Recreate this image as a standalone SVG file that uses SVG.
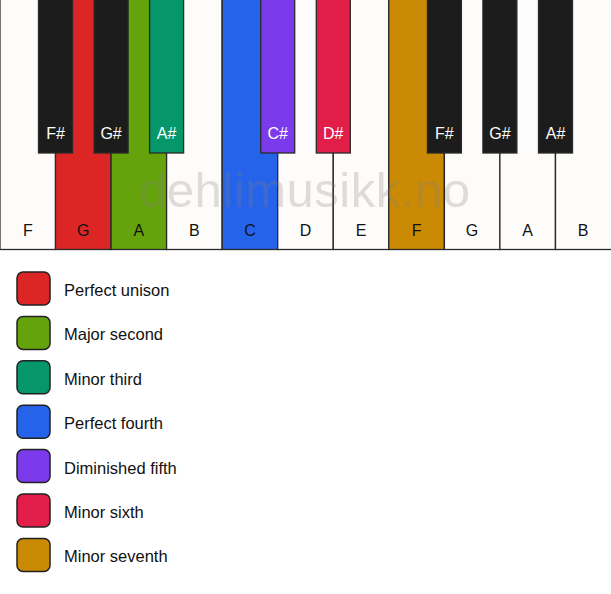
<svg xmlns="http://www.w3.org/2000/svg" width="611" height="594" viewBox="0 0 611 594">
<style>
.w{fill:#fdfcfa;stroke:#2a2a2a;stroke-width:1.3}
.b{fill:#1c1c1c;stroke:#2a2a2a;stroke-width:1.3}
.lw{font-family:"Liberation Sans",Arial,sans-serif;font-size:16px;fill:#111;text-anchor:middle}
.lb{font-family:"Liberation Sans",Arial,sans-serif;font-size:16px;fill:#fff;text-anchor:middle}
.sw{stroke:#222;stroke-width:1.5}
.lt{font-family:"Liberation Sans",Arial,sans-serif;font-size:16.5px;fill:#111}
</style>
<rect width="611" height="594" fill="#ffffff"/>
<g id="white-keys">
<g id="key-F1"><rect class="w" x="0" y="-2" width="55.5" height="251.5"/><text class="lw" x="27.8" y="236">F</text></g>
<g id="key-G1"><rect class="w" x="55.5" y="-2" width="55.5" height="251.5" style="fill:#dc2626"/><text class="lw" x="83.3" y="236">G</text></g>
<g id="key-A1"><rect class="w" x="111.1" y="-2" width="55.5" height="251.5" style="fill:#65a30d"/><text class="lw" x="138.9" y="236">A</text></g>
<g id="key-B1"><rect class="w" x="166.6" y="-2" width="55.5" height="251.5"/><text class="lw" x="194.4" y="236">B</text></g>
<g id="key-C"><rect class="w" x="222.2" y="-2" width="55.5" height="251.5" style="fill:#2563eb"/><text class="lw" x="250" y="236">C</text></g>
<g id="key-D"><rect class="w" x="277.7" y="-2" width="55.5" height="251.5"/><text class="lw" x="305.5" y="236">D</text></g>
<g id="key-E"><rect class="w" x="333.3" y="-2" width="55.5" height="251.5"/><text class="lw" x="361.1" y="236">E</text></g>
<g id="key-F2"><rect class="w" x="388.8" y="-2" width="55.5" height="251.5" style="fill:#ca8a04"/><text class="lw" x="416.6" y="236">F</text></g>
<g id="key-G2"><rect class="w" x="444.4" y="-2" width="55.5" height="251.5"/><text class="lw" x="472.1" y="236">G</text></g>
<g id="key-A2"><rect class="w" x="499.9" y="-2" width="55.5" height="251.5"/><text class="lw" x="527.7" y="236">A</text></g>
<g id="key-B2"><rect class="w" x="555.5" y="-2" width="57" height="251.5"/><text class="lw" x="583.2" y="236">B</text></g>
</g>
<text id="watermark" x="139" y="207" textLength="331" lengthAdjust="spacing" style="font-family:'Liberation Sans',Arial,sans-serif;font-size:49px;fill:#808080;opacity:0.25">dehlimusikk.no</text>
<g id="black-keys">
<g id="key-Fs1"><rect class="b" x="38.5" y="-2" width="34" height="155"/><text class="lb" x="55.5" y="139">F#</text></g>
<g id="key-Gs1"><rect class="b" x="94.1" y="-2" width="34" height="155"/><text class="lb" x="111.1" y="139">G#</text></g>
<g id="key-As1"><rect class="b" x="149.6" y="-2" width="34" height="155" style="fill:#059669"/><text class="lb" x="166.6" y="139">A#</text></g>
<g id="key-Cs"><rect class="b" x="260.7" y="-2" width="34" height="155" style="fill:#7c3aed"/><text class="lb" x="277.7" y="139">C#</text></g>
<g id="key-Ds"><rect class="b" x="316.3" y="-2" width="34" height="155" style="fill:#e11d48"/><text class="lb" x="333.3" y="139">D#</text></g>
<g id="key-Fs2"><rect class="b" x="427.4" y="-2" width="34" height="155"/><text class="lb" x="444.4" y="139">F#</text></g>
<g id="key-Gs2"><rect class="b" x="482.9" y="-2" width="34" height="155"/><text class="lb" x="499.9" y="139">G#</text></g>
<g id="key-As2"><rect class="b" x="538.5" y="-2" width="34" height="155"/><text class="lb" x="555.5" y="139">A#</text></g>
</g>
<g id="legend">
<g id="leg-1"><rect class="sw" x="17" y="272" width="33" height="33" rx="6" fill="#dc2626"/><text class="lt" x="64" y="296">Perfect unison</text></g>
<g id="leg-2"><rect class="sw" x="17" y="316.4" width="33" height="33" rx="6" fill="#65a30d"/><text class="lt" x="64" y="340.4">Major second</text></g>
<g id="leg-3"><rect class="sw" x="17" y="360.8" width="33" height="33" rx="6" fill="#059669"/><text class="lt" x="64" y="384.8">Minor third</text></g>
<g id="leg-4"><rect class="sw" x="17" y="405.2" width="33" height="33" rx="6" fill="#2563eb"/><text class="lt" x="64" y="429.2">Perfect fourth</text></g>
<g id="leg-5"><rect class="sw" x="17" y="449.6" width="33" height="33" rx="6" fill="#7c3aed"/><text class="lt" x="64" y="473.6">Diminished fifth</text></g>
<g id="leg-6"><rect class="sw" x="17" y="494" width="33" height="33" rx="6" fill="#e11d48"/><text class="lt" x="64" y="518">Minor sixth</text></g>
<g id="leg-7"><rect class="sw" x="17" y="538.4" width="33" height="33" rx="6" fill="#ca8a04"/><text class="lt" x="64" y="562.4">Minor seventh</text></g>
</g>
</svg>
